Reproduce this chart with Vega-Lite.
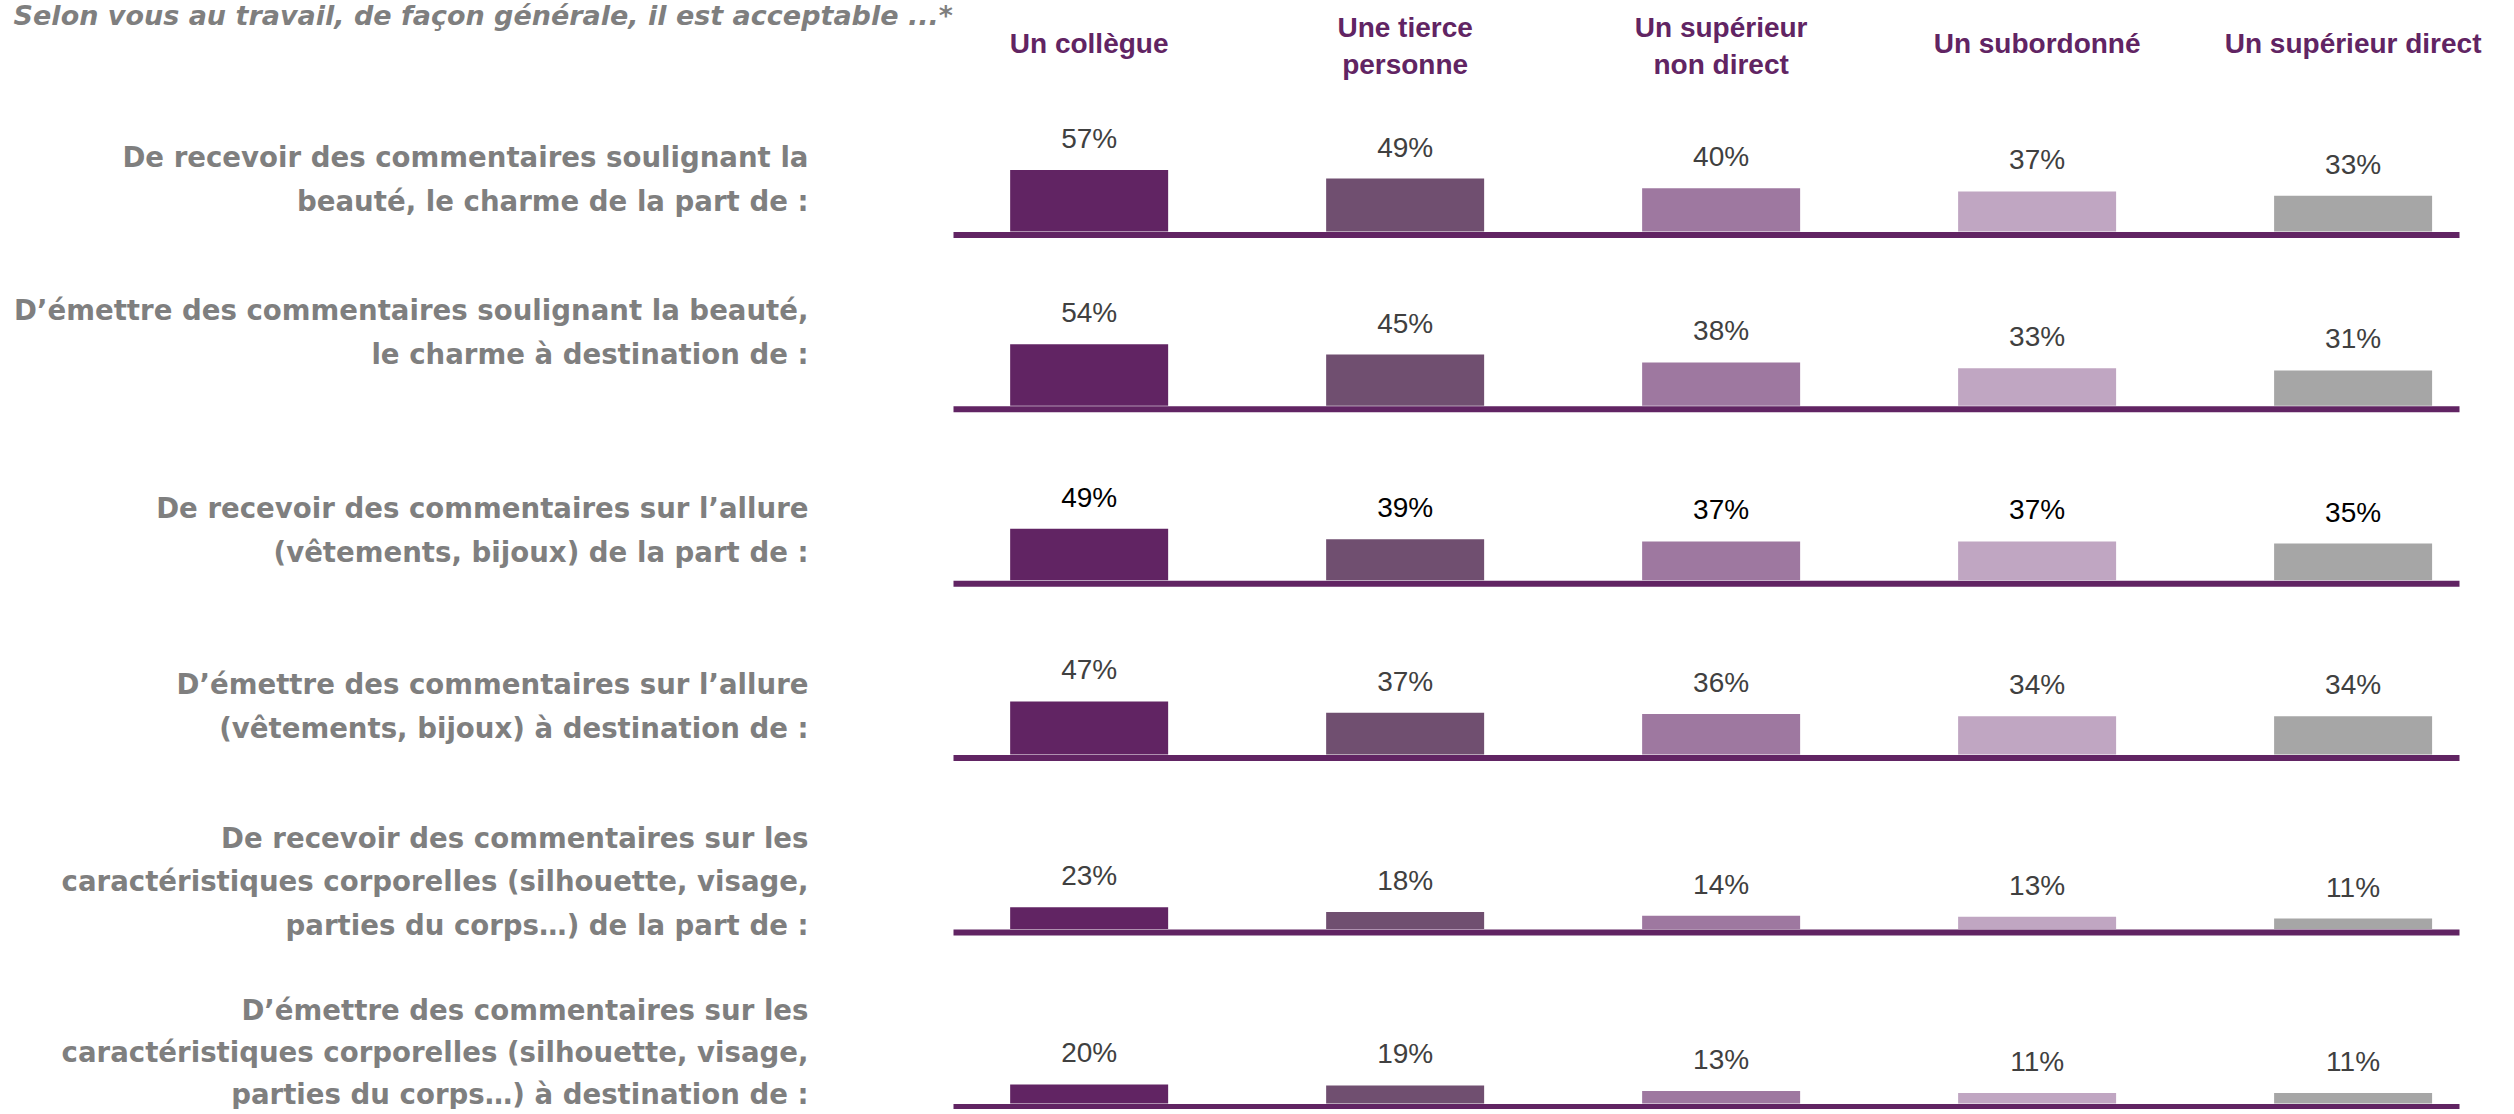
{
  "$schema": "https://vega.github.io/schema/vega-lite/v6.json",
  "padding": {"left": 13, "top": 3, "right": 0, "bottom": 0},
  "background": "white",
  "title": {
    "text": "Selon vous au travail, de façon générale, il est acceptable ...*",
    "anchor": "start",
    "frame": "bounds",
    "font": "DejaVu Sans",
    "fontSize": 27,
    "fontStyle": "italic",
    "fontWeight": "bold",
    "color": "#7f7f7f",
    "offset": -16
  },
  "data": {
    "values": [
      {"question": "Recevoir beauté", "target": "Un collègue", "value": 0.57},
      {"question": "Recevoir beauté", "target": "Une tierce|personne", "value": 0.49},
      {"question": "Recevoir beauté", "target": "Un supérieur|non direct", "value": 0.40},
      {"question": "Recevoir beauté", "target": "Un subordonné", "value": 0.37},
      {"question": "Recevoir beauté", "target": "Un supérieur direct", "value": 0.33},
      {"question": "Émettre beauté", "target": "Un collègue", "value": 0.54},
      {"question": "Émettre beauté", "target": "Une tierce|personne", "value": 0.45},
      {"question": "Émettre beauté", "target": "Un supérieur|non direct", "value": 0.38},
      {"question": "Émettre beauté", "target": "Un subordonné", "value": 0.33},
      {"question": "Émettre beauté", "target": "Un supérieur direct", "value": 0.31},
      {"question": "Recevoir allure", "target": "Un collègue", "value": 0.49},
      {"question": "Recevoir allure", "target": "Une tierce|personne", "value": 0.39},
      {"question": "Recevoir allure", "target": "Un supérieur|non direct", "value": 0.37},
      {"question": "Recevoir allure", "target": "Un subordonné", "value": 0.37},
      {"question": "Recevoir allure", "target": "Un supérieur direct", "value": 0.35},
      {"question": "Émettre allure", "target": "Un collègue", "value": 0.47},
      {"question": "Émettre allure", "target": "Une tierce|personne", "value": 0.37},
      {"question": "Émettre allure", "target": "Un supérieur|non direct", "value": 0.36},
      {"question": "Émettre allure", "target": "Un subordonné", "value": 0.34},
      {"question": "Émettre allure", "target": "Un supérieur direct", "value": 0.34},
      {"question": "Recevoir corps", "target": "Un collègue", "value": 0.23},
      {"question": "Recevoir corps", "target": "Une tierce|personne", "value": 0.18},
      {"question": "Recevoir corps", "target": "Un supérieur|non direct", "value": 0.14},
      {"question": "Recevoir corps", "target": "Un subordonné", "value": 0.13},
      {"question": "Recevoir corps", "target": "Un supérieur direct", "value": 0.11},
      {"question": "Émettre corps", "target": "Un collègue", "value": 0.20},
      {"question": "Émettre corps", "target": "Une tierce|personne", "value": 0.19},
      {"question": "Émettre corps", "target": "Un supérieur|non direct", "value": 0.13},
      {"question": "Émettre corps", "target": "Un subordonné", "value": 0.11},
      {"question": "Émettre corps", "target": "Un supérieur direct", "value": 0.11}
    ]
  },
  "spacing": 64.4,
  "bounds": "flush",
  "resolve": {"scale": {"y": "independent"}},
  "vconcat": [
    {
      "transform": [{"filter": {"field": "question", "equal": "Recevoir beauté"}}],
      "width": 1506,
      "height": 22,
      "encoding": {
        "x": {"field": "target", "type": "nominal", "sort": ["Un collègue", "Une tierce|personne", "Un supérieur|non direct", "Un subordonné", "Un supérieur direct"], "scale": {"type": "band", "paddingInner": 0.5, "paddingOuter": 0.133, "align": 0.68}, "axis": null},
        "text": {"field": "target", "type": "nominal"}
      },
      "layer": [
        {
          "transform": [{"filter": "indexof(datum.target, '|') >= 0"}],
          "mark": {"type": "text", "lineBreak": "|", "baseline": "middle", "align": "center", "font": "Liberation Sans", "fontSize": 28, "fontWeight": "bold", "color": "#612463", "lineHeight": 37, "dy": -17}
        },
        {
          "transform": [{"filter": "indexof(datum.target, '|') < 0"}],
          "mark": {"type": "text", "baseline": "middle", "align": "center", "font": "Liberation Sans", "fontSize": 28, "fontWeight": "bold", "color": "#612463", "dy": -1}
        }
      ]
    },
    {
      "transform": [{"filter": {"field": "question", "equal": "Recevoir beauté"}}],
      "width": 1506,
      "height": 110,
      "encoding": {
        "x": {"field": "target", "type": "nominal", "sort": ["Un collègue", "Une tierce|personne", "Un supérieur|non direct", "Un subordonné", "Un supérieur direct"], "scale": {"type": "band", "paddingInner": 0.5, "paddingOuter": 0.133, "align": 0.68}},
        "y": {"field": "value", "type": "quantitative", "scale": {"domain": [0, 1.02]}, "axis": {"title": ["De recevoir des commentaires soulignant la", "beauté, le charme de la part de :"], "titleY": 37}}
      },
      "layer": [
        {"mark": {"type": "bar"}, "encoding": {"color": {"field": "target", "type": "nominal", "scale": {"domain": ["Un collègue", "Une tierce|personne", "Un supérieur|non direct", "Un subordonné", "Un supérieur direct"], "range": ["#612463", "#704f70", "#9e78a0", "#c0a6c2", "#a6a6a6"]}, "legend": null}}},
        {"mark": {"type": "text", "baseline": "alphabetic", "dy": -22, "font": "Liberation Sans", "fontSize": 28, "color": "#404040"}, "encoding": {"text": {"field": "value", "type": "quantitative", "format": ".0%"}}}
      ]
    },
    {
      "transform": [{"filter": {"field": "question", "equal": "Émettre beauté"}}],
      "width": 1506,
      "height": 110,
      "encoding": {
        "x": {"field": "target", "type": "nominal", "sort": ["Un collègue", "Une tierce|personne", "Un supérieur|non direct", "Un subordonné", "Un supérieur direct"], "scale": {"type": "band", "paddingInner": 0.5, "paddingOuter": 0.133, "align": 0.68}},
        "y": {"field": "value", "type": "quantitative", "scale": {"domain": [0, 0.965]}, "axis": {"title": ["D’émettre des commentaires soulignant la beauté,", "le charme à destination de :"], "titleY": 16}}
      },
      "layer": [
        {"mark": {"type": "bar"}, "encoding": {"color": {"field": "target", "type": "nominal", "scale": {"domain": ["Un collègue", "Une tierce|personne", "Un supérieur|non direct", "Un subordonné", "Un supérieur direct"], "range": ["#612463", "#704f70", "#9e78a0", "#c0a6c2", "#a6a6a6"]}, "legend": null}}},
        {"mark": {"type": "text", "baseline": "alphabetic", "dy": -22, "font": "Liberation Sans", "fontSize": 28, "color": "#404040"}, "encoding": {"text": {"field": "value", "type": "quantitative", "format": ".0%"}}}
      ]
    },
    {
      "transform": [{"filter": {"field": "question", "equal": "Recevoir allure"}}],
      "width": 1506,
      "height": 110,
      "encoding": {
        "x": {"field": "target", "type": "nominal", "sort": ["Un collègue", "Une tierce|personne", "Un supérieur|non direct", "Un subordonné", "Un supérieur direct"], "scale": {"type": "band", "paddingInner": 0.5, "paddingOuter": 0.133, "align": 0.68}},
        "y": {"field": "value", "type": "quantitative", "scale": {"domain": [0, 1.05]}, "axis": {"title": ["De recevoir des commentaires sur l’allure", "(vêtements, bijoux) de la part de :"], "titleY": 39}}
      },
      "layer": [
        {"mark": {"type": "bar"}, "encoding": {"color": {"field": "target", "type": "nominal", "scale": {"domain": ["Un collègue", "Une tierce|personne", "Un supérieur|non direct", "Un subordonné", "Un supérieur direct"], "range": ["#612463", "#704f70", "#9e78a0", "#c0a6c2", "#a6a6a6"]}, "legend": null}}},
        {"mark": {"type": "text", "baseline": "alphabetic", "dy": -22, "font": "Liberation Sans", "fontSize": 28, "color": "#000000"}, "encoding": {"text": {"field": "value", "type": "quantitative", "format": ".0%"}}}
      ]
    },
    {
      "transform": [{"filter": {"field": "question", "equal": "Émettre allure"}}],
      "width": 1506,
      "height": 110,
      "encoding": {
        "x": {"field": "target", "type": "nominal", "sort": ["Un collègue", "Une tierce|personne", "Un supérieur|non direct", "Un subordonné", "Un supérieur direct"], "scale": {"type": "band", "paddingInner": 0.5, "paddingOuter": 0.133, "align": 0.68}},
        "y": {"field": "value", "type": "quantitative", "scale": {"domain": [0, 0.973]}, "axis": {"title": ["D’émettre des commentaires sur l’allure", "(vêtements, bijoux) à destination de :"], "titleY": 41}}
      },
      "layer": [
        {"mark": {"type": "bar"}, "encoding": {"color": {"field": "target", "type": "nominal", "scale": {"domain": ["Un collègue", "Une tierce|personne", "Un supérieur|non direct", "Un subordonné", "Un supérieur direct"], "range": ["#612463", "#704f70", "#9e78a0", "#c0a6c2", "#a6a6a6"]}, "legend": null}}},
        {"mark": {"type": "text", "baseline": "alphabetic", "dy": -22, "font": "Liberation Sans", "fontSize": 28, "color": "#404040"}, "encoding": {"text": {"field": "value", "type": "quantitative", "format": ".0%"}}}
      ]
    },
    {
      "transform": [{"filter": {"field": "question", "equal": "Recevoir corps"}}],
      "width": 1506,
      "height": 110,
      "encoding": {
        "x": {"field": "target", "type": "nominal", "sort": ["Un collègue", "Une tierce|personne", "Un supérieur|non direct", "Un subordonné", "Un supérieur direct"], "scale": {"type": "band", "paddingInner": 0.5, "paddingOuter": 0.133, "align": 0.68}},
        "y": {"field": "value", "type": "quantitative", "scale": {"domain": [0, 1.16]}, "axis": {"title": ["De recevoir des commentaires sur les", "caractéristiques corporelles (silhouette, visage,", "parties du corps…) de la part de :"], "titleY": 20, "titleLineHeight": 43.5}}
      },
      "layer": [
        {"mark": {"type": "bar"}, "encoding": {"color": {"field": "target", "type": "nominal", "scale": {"domain": ["Un collègue", "Une tierce|personne", "Un supérieur|non direct", "Un subordonné", "Un supérieur direct"], "range": ["#612463", "#704f70", "#9e78a0", "#c0a6c2", "#a6a6a6"]}, "legend": null}}},
        {"mark": {"type": "text", "baseline": "alphabetic", "dy": -22, "font": "Liberation Sans", "fontSize": 28, "color": "#404040"}, "encoding": {"text": {"field": "value", "type": "quantitative", "format": ".0%"}}}
      ]
    },
    {
      "transform": [{"filter": {"field": "question", "equal": "Émettre corps"}}],
      "width": 1506,
      "height": 110,
      "encoding": {
        "x": {"field": "target", "type": "nominal", "sort": ["Un collègue", "Une tierce|personne", "Un supérieur|non direct", "Un subordonné", "Un supérieur direct"], "scale": {"type": "band", "paddingInner": 0.5, "paddingOuter": 0.133, "align": 0.68}},
        "y": {"field": "value", "type": "quantitative", "scale": {"domain": [0, 1.16]}, "axis": {"title": ["D’émettre des commentaires sur les", "caractéristiques corporelles (silhouette, visage,", "parties du corps…) à destination de :"], "titleY": 18, "titleLineHeight": 42}}
      },
      "layer": [
        {"mark": {"type": "bar"}, "encoding": {"color": {"field": "target", "type": "nominal", "scale": {"domain": ["Un collègue", "Une tierce|personne", "Un supérieur|non direct", "Un subordonné", "Un supérieur direct"], "range": ["#612463", "#704f70", "#9e78a0", "#c0a6c2", "#a6a6a6"]}, "legend": null}}},
        {"mark": {"type": "text", "baseline": "alphabetic", "dy": -22, "font": "Liberation Sans", "fontSize": 28, "color": "#404040"}, "encoding": {"text": {"field": "value", "type": "quantitative", "format": ".0%"}}}
      ]
    }
  ],
  "config": {
    "view": {"stroke": null},
    "axisX": {"title": null, "labels": false, "ticks": false, "grid": false, "domainColor": "#612463", "domainWidth": 6, "offset": 3},
    "axisY": {"domain": false, "labels": false, "ticks": false, "grid": false, "titleAngle": 0, "titleAlign": "right", "titleBaseline": "middle", "titleX": -145, "titleFont": "DejaVu Sans", "titleFontSize": 27.6, "titleFontWeight": "bold", "titleColor": "#7f7f7f", "titleLineHeight": 44}
  }
}
